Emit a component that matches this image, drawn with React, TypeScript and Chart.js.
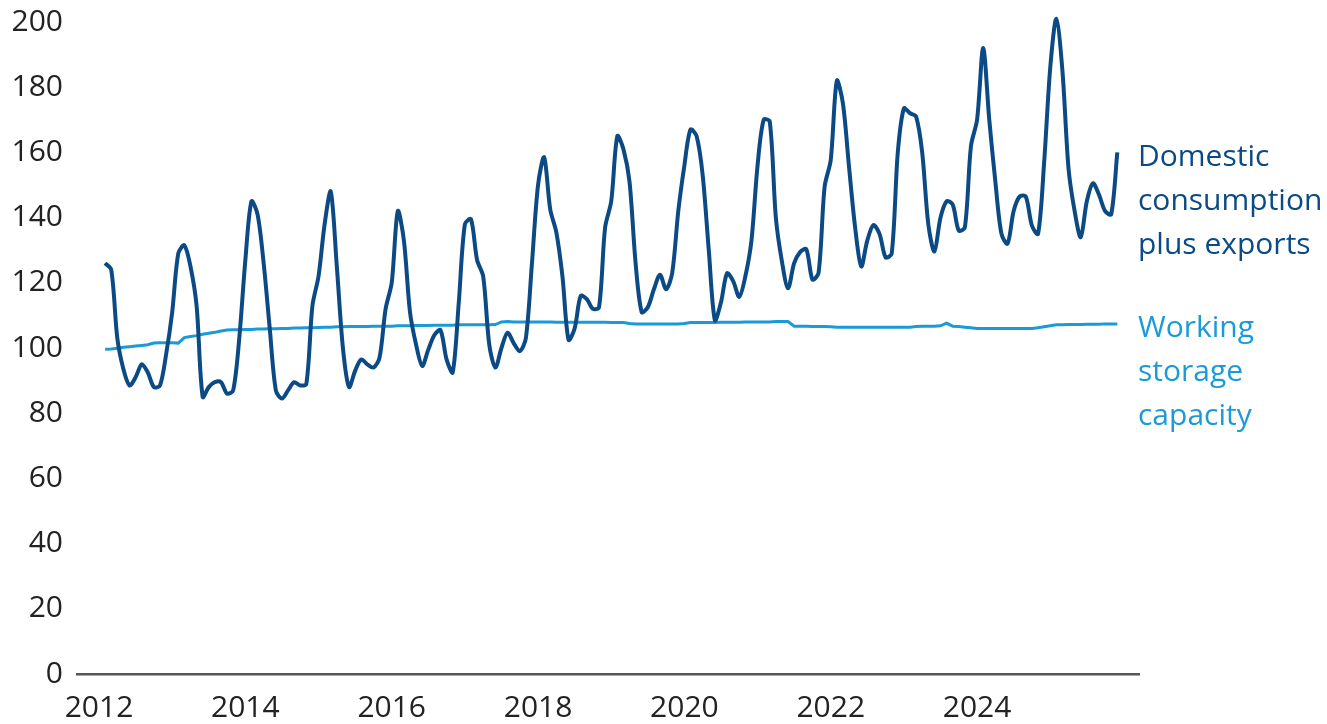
import React, { useEffect, useRef } from 'react';
import { Chart, registerables } from 'chart.js';

Chart.register(...registerables);

const START_YEAR = 2012;

// Monthly values, Jan 2012 – Nov 2025
const domestic2012 = [126, 124, 103, 93.5, 88.5, 91, 95, 92.5, 88, 88.5, 98, 111];
const domestic2013 = [129, 131.5, 125, 113, 85, 88, 89.5, 89.5, 86, 87, 103, 127];
const domestic2014 = [145, 141, 126, 106, 87, 84.5, 87, 89.5, 88.5, 89, 113, 122];
const domestic2015 = [138, 148, 125, 100, 88, 93, 96.5, 95, 94, 97, 112, 120];
const domestic2016 = [142, 133, 111, 101, 94.5, 99.5, 104, 105.5, 96.5, 92.5, 114, 138];
const domestic2017 = [139.5, 127, 122, 101, 94, 100, 104.7, 101.5, 99, 103, 126, 150];
const domestic2018 = [158.5, 142.5, 135.5, 122, 102.5, 106, 116, 115, 112, 112.5, 137, 145];
const domestic2019 = [165, 161, 151, 126, 111, 112.5, 118, 122.5, 118, 123, 142, 156];
const domestic2020 = [167, 165, 153, 130, 108.5, 114, 122.9, 120.5, 115.7, 122, 133, 156];
const domestic2021 = [170, 169.5, 140, 126.5, 118.3, 126, 129.5, 130.3, 121, 123, 149.5, 157.7];
const domestic2022 = [182, 175, 155.6, 137, 125, 133, 137.7, 135, 127.8, 129, 160, 173.5];
const domestic2023 = [172, 171, 160, 138, 129.6, 140, 145, 144, 136, 137, 162, 170];
const domestic2024 = [192, 170, 151, 135, 132, 142, 146.5, 146.4, 137.5, 135, 157, 186];
const domestic2025 = [201, 185, 155, 142, 134, 145, 150.5, 147, 142, 141, 160];

const storage2012 = [99.6, 99.7, 99.9, 100.2, 100.4, 100.6, 100.8, 101.0, 101.5, 101.6, 101.6, 101.6];
const storage2013 = [101.5, 103.2, 103.5, 103.8, 104.2, 104.5, 104.8, 105.2, 105.5, 105.6, 105.6, 105.7];
const storage2014 = [105.7, 105.8, 105.8, 105.9, 105.9, 106.0, 106.0, 106.1, 106.1, 106.2, 106.2, 106.3];
const storage2015 = [106.4, 106.4, 106.5, 106.5, 106.6, 106.6, 106.6, 106.6, 106.7, 106.7, 106.7, 106.7];
const storage2016 = [106.8, 106.8, 106.8, 106.9, 106.9, 106.9, 107.0, 107.0, 107.0, 107.0, 107.1, 107.1];
const storage2017 = [107.1, 107.1, 107.1, 107.1, 107.2, 108.0, 108.1, 108.0, 108.0, 108.0, 108.0, 108.0];
const storage2018 = [108.0, 108.0, 107.9, 107.9, 107.9, 107.9, 107.9, 107.9, 107.9, 107.9, 107.9, 107.8];
const storage2019 = [107.8, 107.8, 107.5, 107.4, 107.4, 107.4, 107.4, 107.4, 107.4, 107.4, 107.4, 107.5];
const storage2020 = [107.8, 107.8, 107.8, 107.8, 107.8, 107.9, 107.9, 107.9, 107.9, 108.0, 108.0, 108.0];
const storage2021 = [108.0, 108.0, 108.1, 108.1, 108.1, 106.7, 106.7, 106.7, 106.6, 106.6, 106.6, 106.5];
const storage2022 = [106.4, 106.4, 106.4, 106.4, 106.4, 106.4, 106.4, 106.4, 106.4, 106.4, 106.4, 106.4];
const storage2023 = [106.4, 106.6, 106.7, 106.7, 106.7, 106.8, 107.6, 106.7, 106.6, 106.4, 106.2, 106.0];
const storage2024 = [106.0, 106.0, 106.0, 106.0, 106.0, 106.0, 106.0, 106.0, 106.0, 106.2, 106.5, 106.8];
const storage2025 = [107.1, 107.1, 107.2, 107.2, 107.2, 107.3, 107.3, 107.3, 107.4, 107.4, 107.4];

const domestic = [
  ...domestic2012, ...domestic2013, ...domestic2014, ...domestic2015, ...domestic2016,
  ...domestic2017, ...domestic2018, ...domestic2019, ...domestic2020, ...domestic2021,
  ...domestic2022, ...domestic2023, ...domestic2024, ...domestic2025,
];
const storage = [
  ...storage2012, ...storage2013, ...storage2014, ...storage2015, ...storage2016,
  ...storage2017, ...storage2018, ...storage2019, ...storage2020, ...storage2021,
  ...storage2022, ...storage2023, ...storage2024, ...storage2025,
];

const tickYears = [2012, 2014, 2016, 2018, 2020, 2022, 2024];
const domesticLabel = ['Domestic', 'consumption', 'plus exports'];
const storageLabel = ['Working', 'storage', 'capacity'];

const DARK = '#0b4a85';
const LIGHT = '#1a9ad6';
const FONT = '"Open Sans", "Noto Sans", sans-serif';

export default function App() {
  const ref = useRef<HTMLCanvasElement>(null);

  useEffect(() => {
    const canvas = ref.current;
    if (!canvas) return;
    // month-end positions in fractional years
    const toPts = (arr: number[]) => arr.map((v, i) => ({ x: START_YEAR + (i + 1) / 12, y: v }));

    const labelPlugin = {
      id: 'seriesLabels',
      afterDraw(chart: any) {
        const c = chart.ctx;
        c.save();
        c.font = `30px ${FONT}`;
        c.textAlign = 'left';
        c.textBaseline = 'alphabetic';
        const x = chart.chartArea.right - 1;
        c.fillStyle = DARK;
        domesticLabel.forEach((t, k) => c.fillText(t, x, 166 + 44 * k));
        c.fillStyle = LIGHT;
        storageLabel.forEach((t, k) => c.fillText(t, x, 337 + 44 * k));
        c.restore();
      },
    };

    const chart = new Chart(canvas, {
      type: 'line',
      data: {
        datasets: [
          {
            label: 'Domestic consumption plus exports',
            data: toPts(domestic),
            borderColor: DARK,
            borderWidth: 4,
            pointRadius: 0,
            tension: 0.3,
            fill: false,
            clip: 10,
          },
          {
            label: 'Working storage capacity',
            data: toPts(storage),
            borderColor: LIGHT,
            borderWidth: 3,
            pointRadius: 0,
            tension: 0,
            fill: false,
            clip: 10,
          },
        ],
      },
      options: {
        animation: false,
        responsive: false,
        layout: { padding: { top: 22, right: 188, left: 0, bottom: 0 } },
        plugins: { legend: { display: false }, tooltip: { enabled: false } },
        scales: {
          x: {
            type: 'linear',
            min: 2011.699,
            max: 2026.213,
            grid: { display: false, drawTicks: false },
            border: { display: true, color: '#555555', width: 2.5 },
            afterBuildTicks: (s: any) => {
              s.ticks = tickYears.map((v) => ({ value: v }));
            },
            afterFit: (s: any) => {
              s.height = 50;
              s.paddingLeft = 0;
              s.paddingRight = 0;
            },
            ticks: {
              padding: 16,
              color: '#222222',
              font: { family: FONT, size: 30 },
              maxRotation: 0,
              autoSkip: false,
              callback: (v: any) => String(v),
            },
          },
          y: {
            min: 0,
            max: 200,
            afterFit: (s: any) => {
              s.width = 77;
              s.paddingTop = 0;
              s.paddingBottom = 0;
            },
            grid: { display: false, drawTicks: false },
            border: { display: false },
            ticks: {
              stepSize: 20,
              padding: 14,
              color: '#222222',
              font: { family: FONT, size: 30 },
            },
          },
        },
      },
      plugins: [labelPlugin],
    } as any);

    return () => chart.destroy();
  }, []);

  return (
    <div style={{ position: 'fixed', left: 0, top: 0, width: 1327, height: 724, background: '#ffffff' }}>
      <canvas ref={ref} width={1327} height={724} style={{ display: 'block', width: 1327, height: 724 }} />
    </div>
  );
}
